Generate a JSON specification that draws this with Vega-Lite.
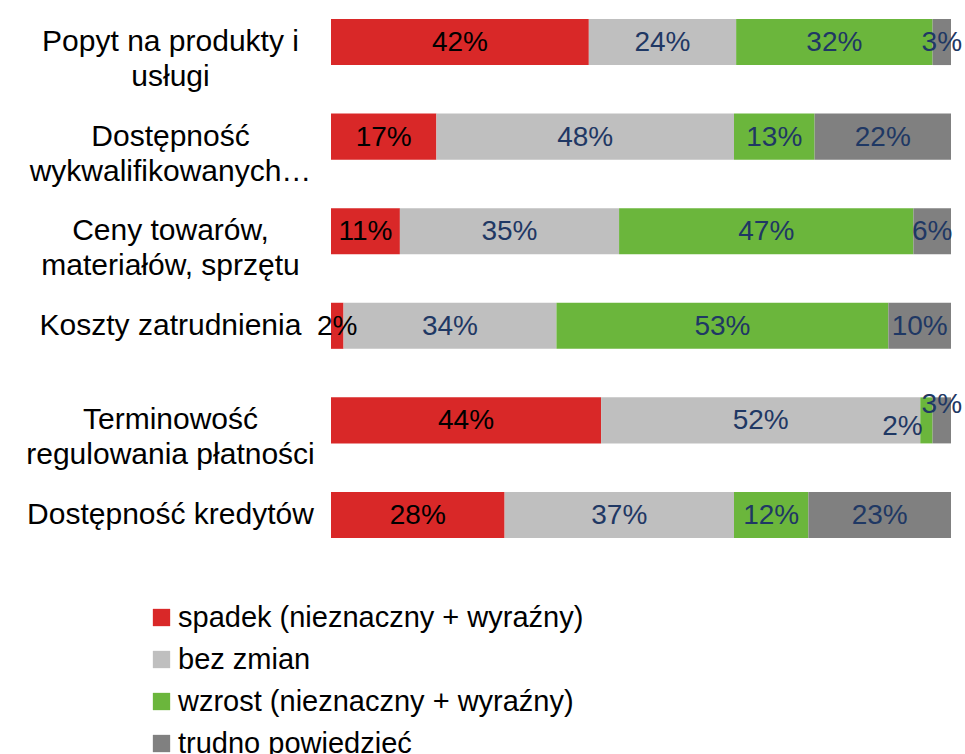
{
  "$schema": "https://vega.github.io/schema/vega-lite/v6.json",
  "autosize": "none",
  "width": 620,
  "height": 519,
  "padding": {"left": 331, "top": 19, "right": 14, "bottom": 216},
  "background": "white",
  "config": {"view": {"stroke": null}, "font": "Liberation Sans"},
  "data": {"values": [
    {"r": "Popyt na produkty i usługi", "c": "spadek (nieznaczny + wyraźny)", "v": 42, "o": 1},
    {"r": "Popyt na produkty i usługi", "c": "bez zmian", "v": 24, "o": 2},
    {"r": "Popyt na produkty i usługi", "c": "wzrost (nieznaczny + wyraźny)", "v": 32, "o": 3},
    {"r": "Popyt na produkty i usługi", "c": "trudno powiedzieć", "v": 3, "o": 4},
    {"r": "Dostępność wykwalifikowanych…", "c": "spadek (nieznaczny + wyraźny)", "v": 17, "o": 1},
    {"r": "Dostępność wykwalifikowanych…", "c": "bez zmian", "v": 48, "o": 2},
    {"r": "Dostępność wykwalifikowanych…", "c": "wzrost (nieznaczny + wyraźny)", "v": 13, "o": 3},
    {"r": "Dostępność wykwalifikowanych…", "c": "trudno powiedzieć", "v": 22, "o": 4},
    {"r": "Ceny towarów, materiałów, sprzętu", "c": "spadek (nieznaczny + wyraźny)", "v": 11, "o": 1},
    {"r": "Ceny towarów, materiałów, sprzętu", "c": "bez zmian", "v": 35, "o": 2},
    {"r": "Ceny towarów, materiałów, sprzętu", "c": "wzrost (nieznaczny + wyraźny)", "v": 47, "o": 3},
    {"r": "Ceny towarów, materiałów, sprzętu", "c": "trudno powiedzieć", "v": 6, "o": 4},
    {"r": "Koszty zatrudnienia", "c": "spadek (nieznaczny + wyraźny)", "v": 2, "o": 1},
    {"r": "Koszty zatrudnienia", "c": "bez zmian", "v": 34, "o": 2},
    {"r": "Koszty zatrudnienia", "c": "wzrost (nieznaczny + wyraźny)", "v": 53, "o": 3},
    {"r": "Koszty zatrudnienia", "c": "trudno powiedzieć", "v": 10, "o": 4},
    {"r": "Terminowość regulowania płatności", "c": "spadek (nieznaczny + wyraźny)", "v": 44, "o": 1},
    {"r": "Terminowość regulowania płatności", "c": "bez zmian", "v": 52, "o": 2},
    {"r": "Terminowość regulowania płatności", "c": "wzrost (nieznaczny + wyraźny)", "v": 2, "o": 3},
    {"r": "Terminowość regulowania płatności", "c": "trudno powiedzieć", "v": 3, "o": 4},
    {"r": "Dostępność kredytów", "c": "spadek (nieznaczny + wyraźny)", "v": 28, "o": 1},
    {"r": "Dostępność kredytów", "c": "bez zmian", "v": 37, "o": 2},
    {"r": "Dostępność kredytów", "c": "wzrost (nieznaczny + wyraźny)", "v": 12, "o": 3},
    {"r": "Dostępność kredytów", "c": "trudno powiedzieć", "v": 23, "o": 4}
  ]},
  "encoding": {
    "y": {
      "field": "r", "type": "nominal", "sort": null,
      "scale": {"paddingInner": 0.513, "paddingOuter": 0},
      "axis": {
        "title": null, "domain": false, "ticks": false,
        "labelPadding": 161, "labelAlign": "center", "labelBaseline": "middle",
        "labelFontSize": 30, "labelColor": "#000000", "labelLimit": 0, "labelLineHeight": 35,
        "labelExpr": "datum.value == 'Popyt na produkty i usługi' ? ['Popyt na produkty i', 'usługi'] : datum.value == 'Dostępność wykwalifikowanych…' ? ['Dostępność', 'wykwalifikowanych…'] : datum.value == 'Ceny towarów, materiałów, sprzętu' ? ['Ceny towarów,', 'materiałów, sprzętu'] : datum.value == 'Terminowość regulowania płatności' ? ['Terminowość', 'regulowania płatności'] : datum.value"
      }
    },
    "x": {"field": "v", "type": "quantitative", "stack": "normalize", "axis": null, "scale": {"domain": [0, 1], "nice": false}},
    "order": {"field": "o", "type": "ordinal"}
  },
  "layer": [
    {
      "mark": {"type": "bar"},
      "encoding": {
        "color": {
          "field": "c", "type": "nominal",
          "scale": {
            "domain": ["spadek (nieznaczny + wyraźny)", "bez zmian", "wzrost (nieznaczny + wyraźny)", "trudno powiedzieć"],
            "range": ["#D92828", "#BFBFBF", "#6BB63C", "#808080"]
          },
          "legend": {
            "title": null, "orient": "none", "legendX": -184, "legendY": 584,
            "symbolType": "square", "symbolSize": 300, "symbolStrokeWidth": 0,
            "labelFontSize": 29, "labelColor": "#000000", "labelOffset": 2, "labelLimit": 0,
            "rowPadding": 12
          }
        }
      }
    },
    {
      "mark": {
        "type": "text", "fontSize": 28, "baseline": "middle", "align": "center",
        "text": {"expr": "datum.v + '%'"},
        "dx": {"expr": "datum.r == 'Terminowość regulowania płatności' && datum.o == 3 ? -24 : 0"},
        "dy": {"expr": "datum.r == 'Terminowość regulowania płatności' && datum.o == 3 ? 7 : datum.r == 'Terminowość regulowania płatności' && datum.o == 4 ? -15 : 1"}
      },
      "encoding": {
        "x": {"field": "v", "type": "quantitative", "stack": "normalize", "bandPosition": 0.5},
        "color": {
          "condition": {"test": "datum.o == 1", "value": "#000000"},
          "value": "#1F3864"
        }
      }
    }
  ]
}
